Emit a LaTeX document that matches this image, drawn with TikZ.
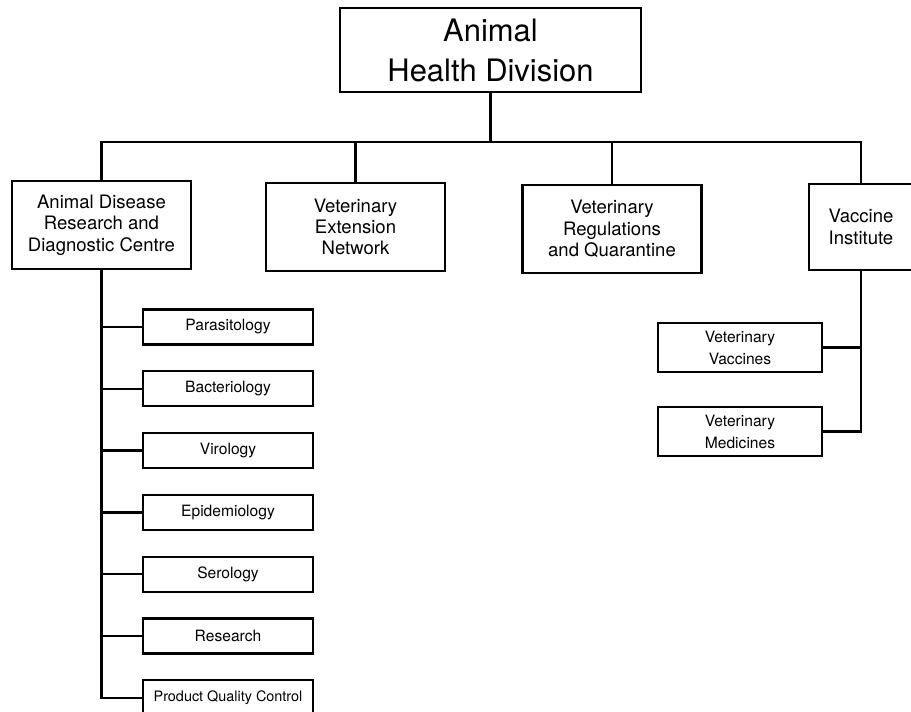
\documentclass[tikz,border=0pt]{standalone}
\usepackage{fontspec}
\setmainfont{TeX Gyre Heros}

\begin{document}
\begin{tikzpicture}[x=0.75pt,y=-0.75pt,line width=1.7pt,node distance=46.35pt,
                    box/.style={rectangle,draw,align=center,inner sep=0pt},
                    head node/.style={box,minimum width=225.75pt,minimum height=63pt,
                                      font=\fontsize{23.2}{30}\selectfont},
                    unit node/.style={box,minimum width=134.25pt,minimum height=66pt,
                                      font=\fontsize{13.9}{16}\selectfont},
                    sub node/.style={box,minimum width=127.5pt,minimum height=26.25pt,
                                     font=\fontsize{11.7}{16.5}\selectfont}]
  \useasboundingbox (0,0) rectangle (911,712);
  \clip (0,0) rectangle (911,712);
  \node[head node] (ahd) at (490.5,50) {Animal\\Health Division};
  \node[unit node] (adr) at (101.5,225) {Animal Disease\\Research and\\Diagnostic Centre};
  \node[unit node] (ven) at (355.5,227) {Veterinary\\Extension\\Network};
  \node[unit node] (vrq) at (612,229) {Veterinary\\Regulations\\and Quarantine};
  \node[unit node,minimum width=78pt,minimum height=64.5pt,line width=1.1pt] (vi) at (861,227) {Vaccine\\Institute};
  % sections of the centre
  \node[sub node] (par) at (228,327) {Parasitology};
  \node[sub node] (bac) [below of=par] {Bacteriology};
  \node[sub node] (vir) [below of=bac] {Virology};
  \node[sub node] (epi) [below of=vir] {Epidemiology};
  \node[sub node] (ser) [below of=epi] {Serology};
  \node[sub node] (res) [below of=ser] {Research};
  \node[sub node,font=\fontsize{10.8}{13}\selectfont] (pqc) [below of=res] {Product Quality Control};
  % sections of the institute
  \node[sub node,minimum width=123pt,minimum height=36.75pt] (vv) at (740,347.5) {Veterinary\\Vaccines};
  \node[sub node,minimum width=123pt,minimum height=36.75pt] (vm) [below of=vv,node distance=63pt] {Veterinary\\Medicines};
  \coordinate (bus) at (485,142);
  \draw (ahd.south) -- (ahd.south |- bus);
  \draw (adr.north) |- (bus) -| (vi.north);
  \draw (ven.north) -- (ven.north |- bus);
  \draw (vrq.north) -- (vrq.north |- bus);
  \draw (adr.south) |- (pqc.west);
  \foreach \n in {par,bac,vir,epi,ser,res}
    \draw (\n.west) -- (\n.west -| adr.south);
  \draw (vi.south) |- (vm.east);
  \draw (vv.east) -- (vv.east -| vi.south);
\end{tikzpicture}
\end{document}
